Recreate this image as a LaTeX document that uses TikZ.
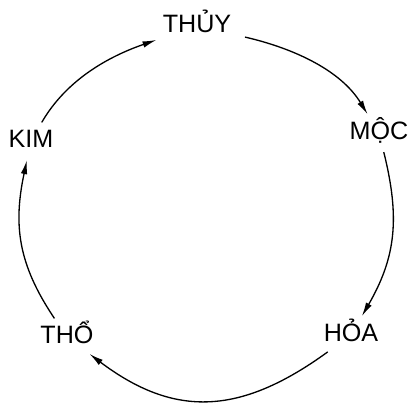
\documentclass[tikz,border=0pt]{standalone}
\usepackage{fontspec}
\setmainfont{Liberation Sans}
\usetikzlibrary{arrows.meta, shapes.geometric}

\begin{document}
\begin{tikzpicture}[
    x=0.2mm, y=0.2mm,
    lbl/.style={ellipse, inner sep=4pt, font=\fontsize{14.3}{16}\selectfont,
                text height=0.72em, text depth=0pt},
    arr/.style={-{Latex[length=2.8mm, width=1.3mm]}, line width=0.75pt,
                looseness=0.9},
  ]
  \useasboundingbox (0,0) rectangle (410,405);

  % Five elements
  \node[lbl] (thuy) at (197,379) {THỦY};
  \node[lbl] (moc)  at (379,272) {MỘC};
  \node[lbl] (hoa)  at (351,70)  {HỎA};
  \node[lbl] (tho)  at (67,68)   {THỔ};
  \node[lbl] (kim)  at (31,264)  {KIM};

  % Generating cycle
  \draw[arr] (thuy) to[out=-13,  in=121.5] (moc);
  \draw[arr] (moc)  to[out=-76,  in=60, looseness=1.05] (hoa);
  \draw[arr] (hoa)  to[out=216,  in=-37, looseness=1.15] (tho);
  \draw[arr] (tho)  to[out=124,  in=-102, looseness=1.05] (kim);
  \draw[arr] (kim)  to[out=60,   in=199]   (thuy);
\end{tikzpicture}
\end{document}
